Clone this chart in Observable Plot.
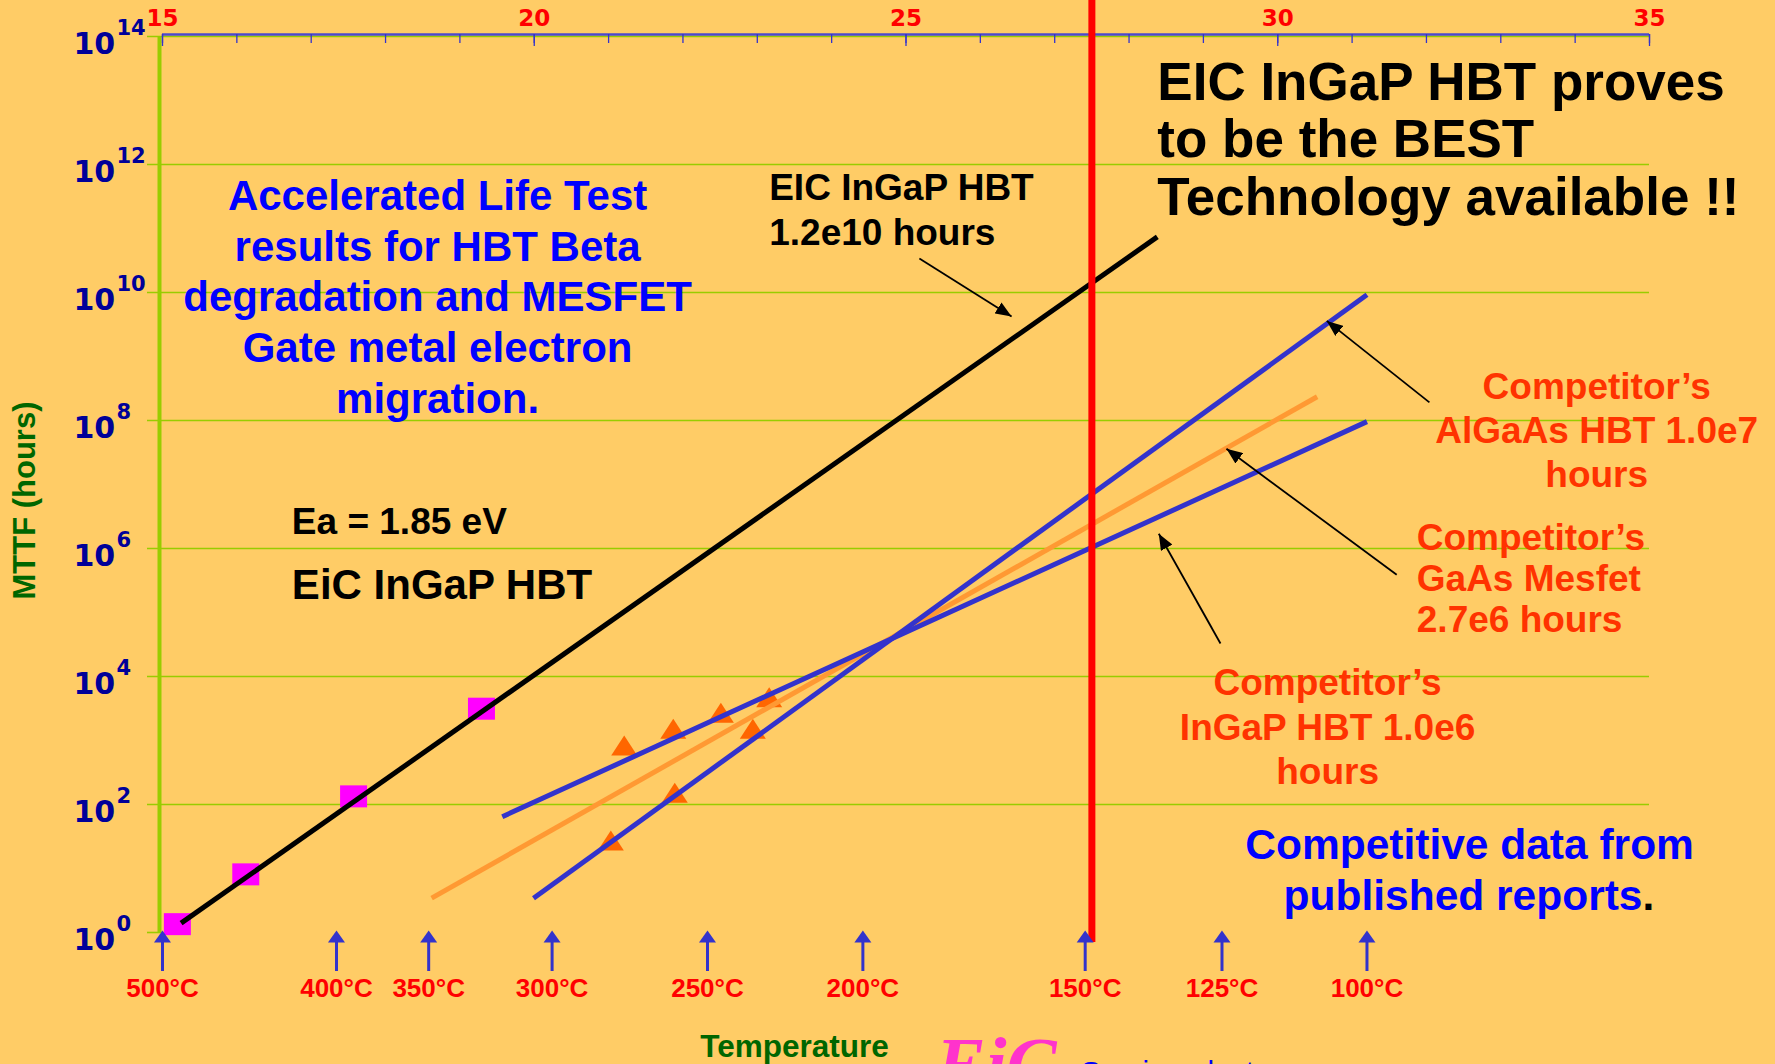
<!DOCTYPE html>
<html><head><meta charset="utf-8">
<script src="https://cdn.jsdelivr.net/npm/d3@7"></script>
<script src="https://cdn.jsdelivr.net/npm/@observablehq/plot@0.6"></script>
<style>
html,body{margin:0;padding:0;background:#ffcc66;overflow:hidden;}
#chart svg{display:block}
</style></head><body><div id="chart"></div>
<script>
// ---------- data ----------
// x axis: 1/kT (eV^-1), y axis: MTTF (hours, log)
const yDecades = [0, 2, 4, 6, 8, 10, 12, 14];
const xMinorTicks = [15,16,17,18,19,20,21,22,23,24,25,26,27,28,29,30,31,32,33,34,35];
const xMajorTicks = [15, 20, 25, 30, 35];
const tempLabels = ["500°C","400°C","350°C","300°C","250°C","200°C","150°C","125°C","100°C"];
const tempInvKT = [15.0, 17.34, 18.58, 20.24, 22.33, 24.42, 27.41, 29.25, 31.2];

const eicSquaresX = [15.20, 16.12, 17.57, 19.29];
const eicSquaresMTTF = [1.35, 8.1, 134, 3140];
const compTrianglesX = [21.03, 21.21, 21.87, 21.89, 22.51, 22.94, 23.16];
const compTrianglesMTTF = [24.3, 741, 1349, 135, 2399, 1349, 4217];

const eicFitX = [15.25, 28.38];   const eicFitMTTF = [1.4, 7.4e10];
const algaasFitX = [19.99, 31.2]; const algaasFitMTTF = [3.44, 9.2e9];
const ingapFitX = [19.57, 31.2];  const ingapFitMTTF = [64.5, 9.6e7];
const mesfetFitX = [18.62, 30.53]; const mesfetFitMTTF = [3.44, 2.35e8];
const redLineX = [27.5];

// ---------- build tables ----------
const zip = (xs, ys) => xs.map((x, i) => ({x, y: ys[i]}));
const squares = zip(eicSquaresX, eicSquaresMTTF);
const triangles = zip(compTrianglesX, compTrianglesMTTF);
const temps = tempInvKT.map((x, i) => ({x, label: tempLabels[i]}));

// annotation placements (data coordinates)
const pointers = [
  {x1: 25.18, y1: 3.40e10, x2: 26.42, y2: 4.22e9},
  {x1: 32.04, y1: 1.92e8,  x2: 30.66, y2: 3.60e9},
  {x1: 31.60, y1: 3.88e5,  x2: 29.31, y2: 3.61e7},
  {x1: 29.23, y1: 3.28e4,  x2: 28.40, y2: 1.70e6}
];

// ---------- symbols / markers ----------
function rectSymbol(aspect) {
  return {draw(ctx, size) {
    const h = Math.sqrt(size / aspect), w = aspect * h;
    ctx.moveTo(-w/2, -h/2); ctx.lineTo(w/2, -h/2); ctx.lineTo(w/2, h/2); ctx.lineTo(-w/2, h/2); ctx.closePath();
  }};
}
function triSymbol(aspect) {
  return {draw(ctx, size) {
    const h = Math.sqrt(2 * size / aspect), w = aspect * h;
    ctx.moveTo(0, -2*h/3); ctx.lineTo(w/2, h/3); ctx.lineTo(-w/2, h/3); ctx.closePath();
  }};
}
function filledHead(color, context) {
  const doc = (context && context.document) || document;
  const ns = "http://www.w3.org/2000/svg";
  const m = doc.createElementNS(ns, "marker");
  m.setAttribute("viewBox", "-16 -6.5 16 13");
  m.setAttribute("markerWidth", 16);
  m.setAttribute("markerHeight", 13);
  m.setAttribute("markerUnits", "userSpaceOnUse");
  m.setAttribute("refX", 0); m.setAttribute("refY", 0);
  m.setAttribute("orient", "auto");
  const p = doc.createElementNS(ns, "path");
  p.setAttribute("d", "M-16,-6.5L0,0L-16,6.5Z");
  p.setAttribute("fill", color); p.setAttribute("stroke", "none");
  m.appendChild(p);
  return m;
}

const SANS = "Liberation Sans, Arial, Helvetica, sans-serif";
const VERD = "DejaVu Sans, Verdana, sans-serif";
const txt = (o) => Object.assign({fontWeight: "bold", fontFamily: SANS, lineAnchor: "top"}, o);

function build(marker) {
  return Plot.plot({
    width: 1775, height: 1064,
    marginLeft: 162, marginRight: 126, marginTop: 36, marginBottom: 132,
    x: {domain: [15, 35], axis: null},
    y: {type: "log", domain: [1, 1e14], axis: null},
    style: {background: "transparent", overflow: "visible"},
    marks: [
      // grid
      Plot.ruleY(yDecades.filter(d => d > 0), {y: d => 10 ** d, stroke: "#99cc00", strokeWidth: 1.6, insetLeft: -15}),
      Plot.ruleY([1], {x1: 15, x2: 15, stroke: "#99cc00", strokeWidth: 1.6, insetLeft: -15}),
      Plot.ruleX([15], {stroke: "#99cc00", strokeWidth: 4, dx: -3}),
      // top axis
      Plot.ruleY([1e14], {stroke: "#4b4bcc", strokeWidth: 2.5, dy: -2}),
      Plot.ruleX(xMinorTicks, {stroke: "#3333cc", strokeWidth: 1.3, insetTop: -2, insetBottom: 889}),
      Plot.ruleX(xMajorTicks, {stroke: "#3333cc", strokeWidth: 1.3, insetTop: -2, insetBottom: 886}),
      Plot.text(xMajorTicks, {x: d => d, text: d => String(d), frameAnchor: "top", dy: -27,
        fill: "#ff0000", fontWeight: "bold", fontFamily: VERD, fontSize: 23}),
      // y tick labels 10^n
      Plot.text(yDecades, {y: d => 10 ** d, text: () => "10", frameAnchor: "left", textAnchor: "start",
        dx: -89, dy: 8, fill: "#000099", fontWeight: "bold", fontFamily: VERD, fontSize: 30}),
      Plot.text(yDecades, {y: d => 10 ** d, text: d => String(d), frameAnchor: "left", textAnchor: "start",
        dx: -46, dy: -8, fill: "#000099", fontWeight: "bold", fontFamily: VERD, fontSize: 21}),
      // markers
      Plot.dot(squares, {x: "x", y: "y", symbol: rectSymbol(27/22), r: 13.75, fill: "#ff00ff", stroke: "none"}),
      Plot.dot(triangles, {x: "x", y: "y", symbol: triSymbol(1.3), r: 9.1, fill: "#ff6600", stroke: "none"}),
      // fit lines
      Plot.line(zip(mesfetFitX, mesfetFitMTTF), {x: "x", y: "y", stroke: "#ff9933", strokeWidth: 5, strokeLinecap: "butt"}),
      Plot.line(zip(algaasFitX, algaasFitMTTF), {x: "x", y: "y", stroke: "#3333cc", strokeWidth: 5, strokeLinecap: "butt"}),
      Plot.line(zip(ingapFitX, ingapFitMTTF), {x: "x", y: "y", stroke: "#3333cc", strokeWidth: 5, strokeLinecap: "butt"}),
      Plot.line(zip(eicFitX, eicFitMTTF), {x: "x", y: "y", stroke: "#000000", strokeWidth: 5, strokeLinecap: "butt"}),
      // 150 C reference line
      Plot.ruleX(redLineX, {stroke: "#ff0000", strokeWidth: 7, insetTop: -36, insetBottom: -10}),
      // temperature arrows
      Plot.ruleX(temps, {x: "x", stroke: "#3333cc", strokeWidth: 3, insetTop: 900, insetBottom: -39}),
      Plot.dot(temps, {x: "x", frameAnchor: "bottom", dy: 6, symbol: triSymbol(1.42), r: 5.7, fill: "#3333cc", stroke: "none"}),
      Plot.text(temps, {x: "x", text: "label", frameAnchor: "bottom", dy: 64, fill: "#ff0000",
        fontWeight: "bold", fontFamily: SANS, fontSize: 26}),
      // pointer arrows
      Plot.link(pointers, {x1: "x1", y1: "y1", x2: "x2", y2: "y2", stroke: "#000000", strokeWidth: 1.8, markerEnd: marker}),
      // texts
      Plot.text([{x: 28.38, y: 4.37e13}], txt({x: "x", y: "y", text: () => "EIC InGaP HBT proves\nto be the BEST\nTechnology available !!",
        textAnchor: "start", fontSize: 53, lineHeight: 1.08, fill: "#000000"})),
      Plot.text([{x: 18.70, y: 7.18e11}], txt({x: "x", y: "y", text: () => "Accelerated Life Test\nresults for HBT Beta\ndegradation and MESFET\nGate metal electron\nmigration.",
        textAnchor: "middle", fontSize: 42, lineHeight: 1.21, fill: "#0000ff"})),
      Plot.text([{x: 23.16, y: 8.98e11}], txt({x: "x", y: "y", text: () => "EIC InGaP HBT\n1.2e10 hours",
        textAnchor: "start", fontSize: 37, lineHeight: 1.22, fill: "#000000"})),
      Plot.text([{x: 16.74, y: 4.31e6}], txt({x: "x", y: "y", text: () => "Ea = 1.85 eV",
        textAnchor: "start", fontSize: 37, fill: "#000000"})),
      Plot.text([{x: 16.74, y: 4.80e5}], txt({x: "x", y: "y", text: () => "EiC InGaP HBT",
        textAnchor: "start", fontSize: 42, fill: "#000000"})),
      Plot.text([{x: 34.29, y: 6.6e8}], txt({x: "x", y: "y", text: () => "Competitor’s\nAlGaAs HBT 1.0e7\nhours",
        textAnchor: "middle", fontSize: 37, lineHeight: 1.19, fill: "#ff3300"})),
      Plot.text([{x: 31.87, y: 2.65e6}], txt({x: "x", y: "y", text: () => "Competitor’s\nGaAs Mesfet\n2.7e6 hours",
        textAnchor: "start", fontSize: 37, lineHeight: 1.1, fill: "#ff3300"})),
      Plot.text([{x: 30.67, y: 1.58e4}], txt({x: "x", y: "y", text: () => "Competitor’s\nInGaP HBT 1.0e6\nhours",
        textAnchor: "middle", fontSize: 37, lineHeight: 1.2, fill: "#ff3300"})),
      Plot.text([{x: 32.58, y: 42}], txt({x: "x", y: "y", text: () => "Competitive data from",
        textAnchor: "middle", fontSize: 42.5, fill: "#0000ff"})),
      Plot.text([{x: 34.906, y: 6.6}], txt({x: "x", y: "y", text: () => "published reports",
        textAnchor: "end", fontSize: 42.5, fill: "#0000ff"})),
      Plot.text([{x: 34.906, y: 6.6}], txt({x: "x", y: "y", text: () => ".",
        textAnchor: "start", fontSize: 42.5, fill: "#000000"})),
      Plot.text([{x: 23.50, y: 0.0255}], txt({x: "x", y: "y", text: () => "Temperature",
        textAnchor: "middle", fontSize: 31.5, fill: "#006600"})),
      Plot.text([{x: 25.40, y: 0.0246}], txt({x: "x", y: "y", text: () => "EiC",
        textAnchor: "start", fontSize: 75, fontStyle: "italic", fontFamily: "Liberation Serif, Times New Roman, serif", fill: "#ff33cc"})),
      Plot.text([{x: 27.35, y: 0.0098}], txt({x: "x", y: "y", text: () => "Semiconductor",
        textAnchor: "start", fontSize: 30, fontWeight: "normal", fill: "#0000ff"})),
      Plot.text([{y: 5.62e6}], {y: "y", text: () => "MTTF (hours)", frameAnchor: "left", dx: -137, rotate: -90,
        textAnchor: "middle", fontWeight: "bold", fontFamily: SANS, fontSize: 31, fill: "#006600"})
    ]
  });
}

let chart;
try { chart = build(filledHead); } catch (e) { chart = build("arrow"); }
document.getElementById("chart").appendChild(chart);
</script></body></html>
